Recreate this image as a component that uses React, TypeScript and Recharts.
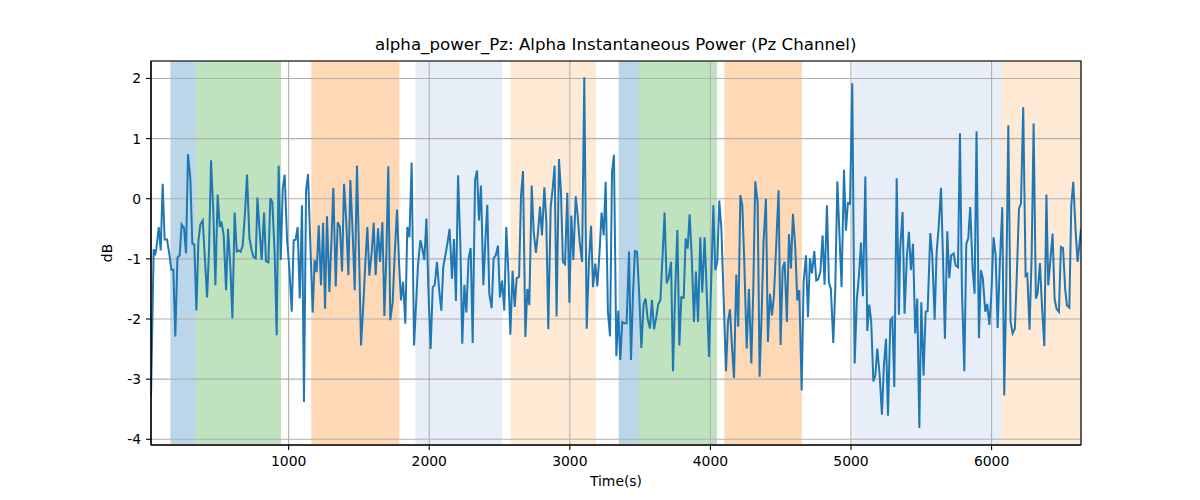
import React from 'react';
import { LineChart, Line, XAxis, YAxis, CartesianGrid, ReferenceArea } from 'recharts';

const times = [
  21, 40, 50, 59, 76, 90, 104, 118, 135, 152, 166, 180, 194, 209, 225, 239, 256, 270, 284, 301,
  315, 329, 344, 358, 372, 389, 403, 420, 434, 448, 465, 479, 495, 510, 522, 538, 555, 569, 586, 600,
  616, 631, 645, 659, 673, 690, 704, 721, 737, 751, 766, 778, 794, 808, 825, 839, 856, 870, 884, 901,
  915, 929, 944, 958, 972, 989, 1005, 1022, 1036, 1050, 1064, 1079,
  1095, 1109, 1124, 1138, 1154, 1171, 1185, 1199, 1214, 1230, 1245, 1259, 1273, 1290, 1304, 1318, 1335, 1349,
  1365, 1380, 1394, 1410, 1425, 1439, 1456, 1470, 1486, 1501, 1515, 1531, 1546, 1560, 1574, 1591, 1605, 1619,
  1636, 1650, 1667, 1681, 1695, 1709, 1723, 1740, 1754, 1771, 1785, 1799, 1814, 1830, 1844, 1859, 1875, 1892,
  1906, 1920, 1937, 1951, 1965, 1980, 1994, 2010, 2025, 2039, 2055, 2070, 2086, 2100, 2115, 2131, 2145,
  2162, 2176, 2190, 2205, 2221, 2235, 2250, 2264, 2280, 2295, 2309, 2326, 2340, 2354, 2368, 2385, 2399, 2413,
  2427, 2444, 2458, 2473, 2489, 2503, 2518, 2534, 2548, 2563, 2577, 2593, 2608, 2622, 2639, 2653, 2667, 2684,
  2698, 2712, 2729, 2743, 2759, 2774, 2788, 2802, 2819, 2833, 2847, 2864, 2878, 2892, 2906, 2923, 2937, 2951,
  2966, 2982, 2997, 3011, 3025, 3042, 3056, 3070, 3087, 3103, 3120, 3136, 3151, 3165, 3181, 3196, 3212,
  3226, 3241, 3255, 3271, 3286, 3300, 3314, 3331, 3345, 3359, 3373, 3388, 3404, 3421, 3435, 3449, 3463, 3478,
  3494, 3509, 3525, 3539, 3554, 3570, 3584, 3599, 3615, 3629, 3644, 3660, 3674, 3689, 3703, 3720, 3734, 3750,
  3765, 3779, 3793, 3810, 3824, 3838, 3852, 3867, 3883, 3897, 3912, 3928, 3942, 3959, 3973, 3990, 4004, 4021,
  4035, 4049, 4063, 4078, 4092, 4111, 4125, 4139, 4153, 4168, 4184, 4198, 4213, 4227, 4241, 4258, 4274,
  4291, 4305, 4319, 4336, 4350, 4364, 4378, 4395, 4409, 4424, 4438, 4452, 4469, 4485, 4499, 4514, 4528, 4544,
  4559, 4573, 4587, 4604, 4618, 4632, 4649, 4663, 4680, 4694, 4708, 4722, 4739, 4753, 4767, 4782, 4798, 4812,
  4829, 4843, 4857, 4874, 4888, 4903, 4919, 4933, 4950, 4964, 4978, 4993, 5009, 5026, 5042, 5057, 5071, 5085,
  5102, 5116, 5130, 5144, 5159, 5173, 5187, 5204, 5220, 5234, 5249, 5263, 5280, 5294, 5308, 5325, 5341,
  5350, 5367, 5381, 5398, 5412, 5426, 5441, 5457, 5471, 5486, 5500, 5516, 5531, 5545, 5564, 5578, 5595, 5609,
  5623, 5640, 5654, 5668, 5685, 5699, 5713, 5730, 5744, 5761, 5775, 5789, 5806, 5820, 5834, 5848, 5865, 5879,
  5893, 5910, 5924, 5938, 5955, 5969, 5984, 5998, 6014, 6029, 6043, 6059, 6076, 6090, 6104, 6119, 6135, 6150,
  6166, 6180, 6195, 6209, 6225, 6242, 6254, 6270, 6285, 6299, 6315, 6327, 6344, 6358, 6375, 6390, 6403, 6417,
  6434, 6448, 6462, 6479, 6493, 6508, 6524, 6536, 6553, 6567, 6581, 6598, 6612, 6636,
];

const values = [
  -3.30, -0.84, -0.94, -0.83, -0.47, -0.86, 0.25, -0.68, -0.68, -0.93, -1.18, -1.18, -2.29, -0.98, -0.94, -0.43, -0.49, -0.91, 0.74, 0.33,
  -0.75, -0.76, -1.86, -0.71, -0.43, -0.36, -0.94, -1.64, -0.83, 0.64, -0.28, -1.44, 0.07, -0.47, -0.38, -0.61, -1.52, -0.50, -1.16, -1.99,
  -0.23, -0.88, -0.86, -0.88, -0.78, -0.22, 0.40, -0.65, -0.86, -0.97, -0.99, 0.02, -0.55, -1.02, -0.23, -1.04, -1.06, 0.01, -0.06, -0.94,
  -2.27, 0.55, -1.02, 0.17, 0.40, -0.69, -1.16, -1.88, -0.69, -0.68, -0.47, -1.66,
  -0.11, -3.38, 0.14, 0.41, -0.72, -1.89, -1.02, -1.22, -0.44, -1.44, -0.40, -1.83, -0.29, -1.55, -0.72, 0.18, -1.46, -0.39,
  -0.47, -1.21, 0.25, -0.39, -1.27, 0.31, -0.61, -1.52, 0.55, -0.94, -2.44, -1.77, -1.05, -0.47, -1.28, -0.89, -0.40, -1.27,
  -0.49, -1.05, -0.39, -1.95, -0.94, 0.54, -2.02, -1.72, -0.94, -0.18, -1.05, -1.69, -1.38, -2.08, -0.47, -0.64, 0.60, -2.44,
  -1.77, -1.11, -0.69, -0.83, -1.02, -0.33, -1.50, -2.50, -1.47, -1.44, -1.05, -1.50, -1.86, -1.13, -0.94, -0.72, -0.50,
  -1.33, -0.67, -1.70, 0.39, -0.72, -2.41, -1.43, -1.89, -0.99, -0.82, -2.40, 0.31, 0.47, -0.36, 0.22, -1.44, -0.72, -0.10,
  -1.58, -1.82, -0.99, -0.94, -0.78, -1.64, -1.36, -1.86, -0.47, -1.22, -2.26, -1.20, -1.80, -1.32, -1.30, 0.06, 0.46, -2.30,
  -1.50, -1.77, 0.22, -0.55, -0.90, -0.55, -0.13, -0.61, 0.19, -0.39, -2.17, -0.14, 0.17, 0.55, -1.96, 0.66, 0.11, -1.05,
  -1.09, 0.10, -1.73, -0.28, -1.02, 0.04, -0.28, -0.72, -1.05, 2.02, -2.16, -1.05, -0.45, -1.47, -1.08, -1.46, -0.86,
  -0.23, -0.61, 0.28, -1.88, -2.29, 0.44, 0.73, -2.62, -1.86, -2.68, -2.05, -2.07, -2.07, -0.88, -2.68, -1.61, -0.87, -0.88,
  -1.61, -2.48, -1.75, -1.66, -2.00, -2.16, -1.68, -2.17, -1.97, -1.75, -1.69, -0.94, -0.23, -1.41, -1.32, -1.05, -2.87, -1.50,
  -0.52, -2.44, -1.64, -1.65, -0.66, -0.83, -0.26, -0.94, -2.05, -1.21, -2.05, -0.64, -1.56, -0.64, -1.50, -2.63, -1.50, -0.11,
  -1.19, -1.05, -0.03, -0.50, -1.50, -2.87, -2.05, -1.84, -2.44, -2.98, -1.26, -2.13, 0.06, -0.11, -1.05, -2.49, -1.50,
  -2.74, -1.50, 0.29, -0.06, -2.96, -1.94, -0.72, 0.00, -2.38, -1.58, -1.94, -1.61, -0.72, 0.14, -2.43, -1.16, -1.05, -2.05,
  -0.59, -1.16, -0.25, -0.83, -1.69, -1.52, -3.19, -1.38, -0.94, -1.97, -0.99, -1.24, -0.87, -1.36, -1.34, -1.22, -0.61, -1.43,
  -0.11, -1.39, -1.50, -2.40, -1.50, 0.29, -0.66, -1.47, 0.48, -0.53, -0.07, -0.08, 1.92, -2.74, -1.66, -1.27, -0.73, -1.62,
  0.37, -2.20, -1.76, -2.05, -3.04, -2.94, -2.49, -2.94, -3.59, -2.77, -2.33, -3.61, -2.02, -1.98, -3.13, 0.34, -1.93,
  -0.83, -0.22, -1.91, -0.94, -0.55, -1.19, -0.75, -2.24, -1.66, -3.81, -1.72, -2.94, -1.88, -1.87, -0.57, -0.94, -2.01, -0.89,
  -0.50, 0.18, -0.94, -2.33, -0.54, -1.32, -0.94, -0.91, -1.11, -1.14, 1.09, -1.50, -2.87, -0.75, -0.66, -0.14, -1.16, -1.58,
  1.12, -2.32, -1.19, -1.33, -1.88, -1.75, -2.10, -1.61, -0.64, -0.94, -2.15, -1.05, -0.14, -3.27, -1.50, 1.22, -2.05, -2.24,
  -2.16, -1.22, -0.16, -0.08, 1.52, -1.28, -1.25, -2.18, -0.94, 1.25, -1.66, -1.58, -1.07, -1.77, -2.45, 0.07, -1.44, -1.05,
  -0.58, -1.66, -1.83, -1.88, -0.80, -0.82, -1.52, -1.77, -1.81, -0.11, 0.28, -0.55, -1.05, -0.50,
];

const xTicks = [1000, 2000, 3000, 4000, 5000, 6000];
const yTicks = [-4, -3, -2, -1, 0, 1, 2];
const xDomain = [21, 6636];
const yDomain = [-4.095, 2.29];

const bandStarts = [159, 340, 1161, 1901, 2577, 3347, 3492, 4099, 5011, 6071];
const bandEnds = [340, 946, 1788, 2520, 3186, 3492, 4047, 4651, 6071, 6636];
const bandColors = [
  '#1f77b4', '#2ca02c', '#ff7f0e', '#aec7e8', '#ffbb78',
  '#1f77b4', '#2ca02c', '#ff7f0e', '#aec7e8', '#ffbb78',
];

const data = times.map((t, i) => ({ t, v: values[i] }));

const FONT = '"DejaVu Sans", sans-serif';
const tickStyle = { fill: '#000', fontSize: 13.9, fontFamily: FONT };

export default function App() {
  return (
    <div style={{ position: 'absolute', left: 0, top: 0, width: 1200, height: 500, background: '#fff', fontFamily: FONT }}>
      <LineChart
        width={1200}
        height={500}
        data={data}
        margin={{ top: 61, right: 119, bottom: 0, left: 0 }}
      >
        {bandStarts.map((s, i) => (
          <ReferenceArea
            key={`band-${i}`}
            x1={s}
            x2={bandEnds[i]}
            y1={yDomain[0]}
            y2={yDomain[1]}
            fill={bandColors[i]}
            fillOpacity={0.3}
            stroke="none"
            ifOverflow="hidden"
            zIndex={-150}
          />
        ))}
        <CartesianGrid stroke="#b0b0b0" strokeWidth={1.1} zIndex={150} />
        <XAxis
          dataKey="t"
          type="number"
          domain={xDomain}
          ticks={xTicks}
          allowDataOverflow
          height={55}
          tickSize={5}
          tickMargin={6}
          tick={tickStyle}
          tickLine={{ stroke: '#000', strokeWidth: 1.1 }}
          axisLine={{ stroke: '#000', strokeWidth: 1.1 }}
          label={{ value: 'Time(s)', position: 'insideBottom', offset: 14, fill: '#000', fontSize: 13.9, fontFamily: FONT }}
        />
        <YAxis
          type="number"
          domain={yDomain}
          ticks={yTicks}
          allowDataOverflow
          width={151}
          tickSize={5}
          tickMargin={5}
          tick={tickStyle}
          tickLine={{ stroke: '#000', strokeWidth: 1.1 }}
          axisLine={{ stroke: '#000', strokeWidth: 1.1 }}
          label={{ value: 'dB', angle: -90, position: 'center', dx: 32, fill: '#000', fontSize: 13.9, fontFamily: FONT }}
        />
        <Line
          type="linear"
          dataKey="v"
          stroke="#1f77b4"
          strokeWidth={2}
          dot={false}
          isAnimationActive={false}
        />
        <ReferenceArea
          x1={xDomain[0]}
          x2={xDomain[1]}
          y1={yDomain[0]}
          y2={yDomain[1]}
          fill="none"
          fillOpacity={0}
          stroke="#000"
          strokeWidth={1.1}
          zIndex={600}
        />
      </LineChart>
      <svg width={1200} height={500} style={{ position: 'absolute', left: 0, top: 0, pointerEvents: 'none' }}>
        <text x={615.7} y={50} textAnchor="middle" fontFamily={FONT} fontSize={16.67} fill="#000">
          alpha_power_Pz: Alpha Instantaneous Power (Pz Channel)
        </text>
      </svg>
    </div>
  );
}
